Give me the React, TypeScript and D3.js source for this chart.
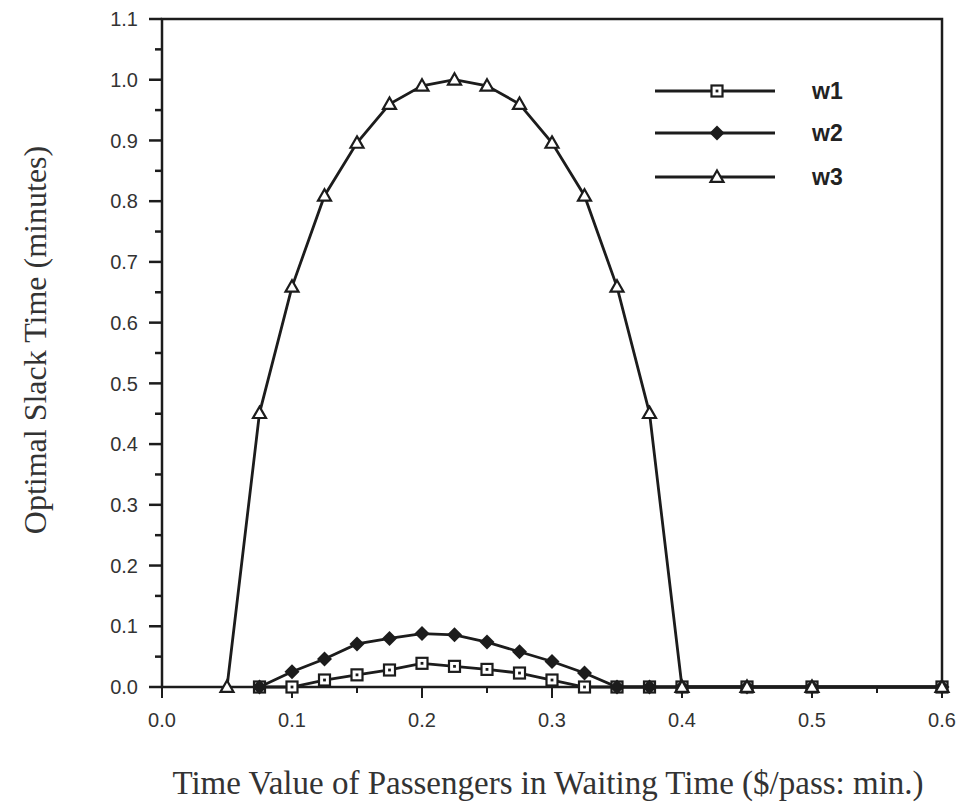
import React from "react";
import * as d3 from "d3";

const xW3 = [0.05, 0.075, 0.1, 0.125, 0.15, 0.175, 0.2, 0.225, 0.25, 0.275, 0.3, 0.325, 0.35, 0.375, 0.4, 0.45, 0.5, 0.6];
const yW3 = [0, 0.451, 0.659, 0.809, 0.896, 0.96, 0.99, 1.0, 0.99, 0.96, 0.896, 0.809, 0.659, 0.451, 0, 0, 0, 0];
const xW12 = [0.075, 0.1, 0.125, 0.15, 0.175, 0.2, 0.225, 0.25, 0.275, 0.3, 0.325, 0.35, 0.375, 0.4, 0.45, 0.5, 0.6];
const yW2 = [0, 0.025, 0.046, 0.071, 0.08, 0.088, 0.086, 0.074, 0.058, 0.042, 0.023, 0, 0, 0, 0, 0, 0];
const yW1 = [0, 0, 0.0115, 0.02, 0.028, 0.039, 0.034, 0.029, 0.023, 0.0115, 0, 0, 0, 0, 0, 0, 0];
const seriesNames = ["w1", "w2", "w3"];
const xTicks = [0, 0.1, 0.2, 0.3, 0.4, 0.5, 0.6];
const yTicks = [0, 0.1, 0.2, 0.3, 0.4, 0.5, 0.6, 0.7, 0.8, 0.9, 1.0, 1.1];

const W = 967, H = 811;
const x0 = 162, x1 = 942, y0 = 687, y1 = 19;
const ink = "#1c1c1c";

function Marker({ kind, cx, cy }: { kind: string; cx: number; cy: number }) {
  if (kind === "w1") {
    return (
      <g>
        <rect x={cx - 5.5} y={cy - 5.5} width={11} height={11} fill="#fff" stroke={ink} strokeWidth={2.2} />
        <rect x={cx - 1.4} y={cy - 1.4} width={2.8} height={2.8} fill={ink} />
      </g>
    );
  }
  if (kind === "w2") {
    const s = 7.5;
    return <path d={`M${cx},${cy - s}L${cx + s},${cy}L${cx},${cy + s}L${cx - s},${cy}Z`} fill={ink} />;
  }
  const s = 6.5;
  return (
    <path
      d={`M${cx},${cy - s}L${cx + s},${cy + s * 0.75}L${cx - s},${cy + s * 0.75}Z`}
      fill="#fff"
      stroke={ink}
      strokeWidth={2.2}
    />
  );
}

export default function App() {
  const x = d3.scaleLinear().domain([0, 0.6]).range([x0, x1]);
  const y = d3.scaleLinear().domain([0, 1.1]).range([y0, y1]);
  const line = d3
    .line<[number, number]>()
    .x((d) => x(d[0]))
    .y((d) => y(d[1]));

  const series = [
    { name: "w1", pts: xW12.map((v, i) => [v, yW1[i]] as [number, number]) },
    { name: "w2", pts: xW12.map((v, i) => [v, yW2[i]] as [number, number]) },
    { name: "w3", pts: xW3.map((v, i) => [v, yW3[i]] as [number, number]) },
  ];

  const xMinor = d3.range(0.05, 0.6, 0.1);
  const yMinor = d3.range(0.05, 1.1, 0.1);
  const legendY = [91, 133, 177];

  return (
    <svg
      width={W}
      height={H}
      style={{ position: "absolute", left: 0, top: 0, background: "#fff" }}
      xmlns="http://www.w3.org/2000/svg"
    >
      <rect x={0} y={0} width={W} height={H} fill="#fff" />
      {/* frame */}
      <rect x={x0} y={y1} width={x1 - x0} height={y0 - y1} fill="none" stroke={ink} strokeWidth={2.5} />
      {/* y ticks */}
      {yTicks.map((t) => (
        <g key={"y" + t}>
          <line x1={x0 - 13} x2={x0} y1={y(t)} y2={y(t)} stroke={ink} strokeWidth={2.5} />
          <text
            x={x0 - 24}
            y={y(t)}
            dy="0.36em"
            textAnchor="end"
            fontFamily="'Liberation Sans', Arial, sans-serif"
            fontSize={20}
            fill="#333"
          >
            {t.toFixed(1)}
          </text>
        </g>
      ))}
      {yMinor.map((t) => (
        <line key={"ym" + t} x1={x0 - 7} x2={x0} y1={y(t)} y2={y(t)} stroke={ink} strokeWidth={2.5} />
      ))}
      {/* x ticks */}
      {xTicks.map((t) => (
        <g key={"x" + t}>
          <line x1={x(t)} x2={x(t)} y1={y0} y2={y0 + 11} stroke={ink} strokeWidth={2} />
          <text
            x={x(t)}
            y={727}
            textAnchor="middle"
            fontFamily="'Liberation Sans', Arial, sans-serif"
            fontSize={20}
            fill="#333"
          >
            {t.toFixed(1)}
          </text>
        </g>
      ))}
      {xMinor.map((t) => (
        <line key={"xm" + t} x1={x(t)} x2={x(t)} y1={y0} y2={y0 + 6} stroke={ink} strokeWidth={2} />
      ))}
      {/* series */}
      {series.map((s) => (
        <path key={s.name} d={line(s.pts) || ""} fill="none" stroke={ink} strokeWidth={2.8} />
      ))}
      {series.map((s) =>
        s.pts.map((p, i) => <Marker key={s.name + i} kind={s.name} cx={x(p[0])} cy={y(p[1])} />)
      )}
      {/* legend */}
      {seriesNames.map((n, i) => (
        <g key={"lg" + n}>
          <line x1={655} x2={775} y1={legendY[i]} y2={legendY[i]} stroke={ink} strokeWidth={2.8} />
          <Marker kind={n} cx={717} cy={legendY[i]} />
          <text
            x={812}
            y={legendY[i]}
            dy="0.36em"
            fontFamily="'Liberation Sans', Arial, sans-serif"
            fontWeight="bold"
            fontSize={23}
            fill="#222"
          >
            {n}
          </text>
        </g>
      ))}
      {/* axis titles */}
      <text
        x={548}
        y={794}
        textAnchor="middle"
        fontFamily="'Liberation Serif', 'Times New Roman', serif"
        fontSize={33}
        fill="#333"
      >
        Time Value of Passengers in Waiting Time ($/pass: min.)
      </text>
      <text
        transform={`translate(46,340) rotate(-90)`}
        textAnchor="middle"
        fontFamily="'Liberation Serif', 'Times New Roman', serif"
        fontSize={32}
        fill="#333"
      >
        Optimal Slack Time (minutes)
      </text>
    </svg>
  );
}
